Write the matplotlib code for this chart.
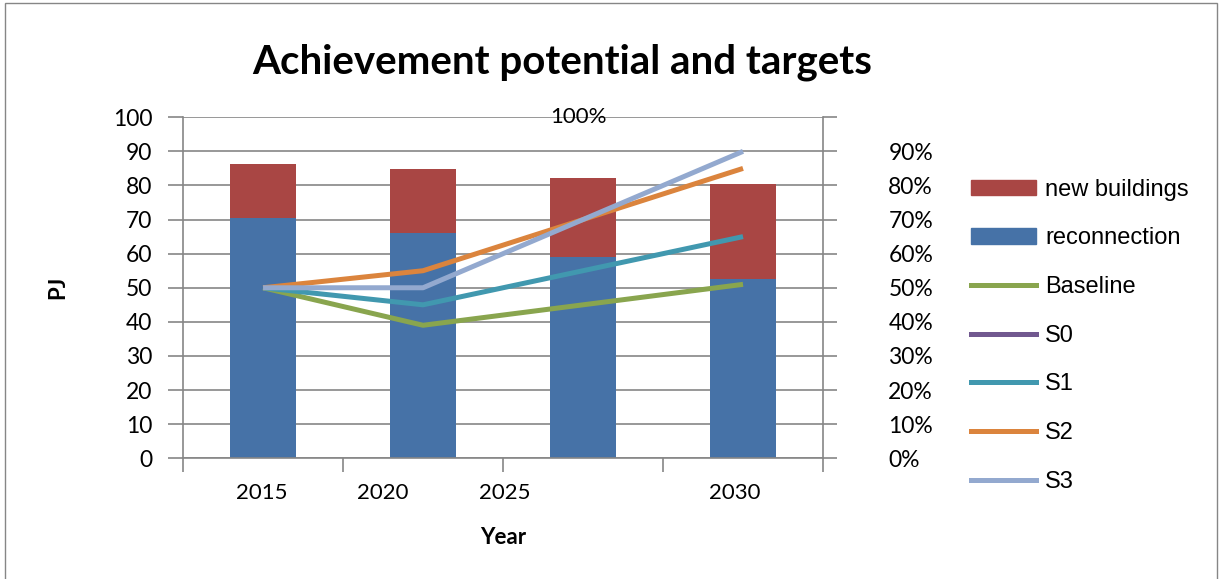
import numpy as np
import matplotlib
matplotlib.use("Agg")
import matplotlib.pyplot as plt
from matplotlib.patches import Patch, Rectangle
from matplotlib.lines import Line2D

# data
year_labels = ["2015", "2020", "2025", "2030"]
reconnection = [70.6, 66.0, 58.9, 52.5]
new_buildings = [15.7, 18.8, 23.2, 27.9]
baseline = [0.50, 0.39, 0.45, 0.51]
s0 = [np.nan, np.nan, np.nan, np.nan]
s1 = [0.50, 0.45, 0.55, 0.65]
s2 = [0.50, 0.55, 0.70, 0.85]
s3 = [0.50, 0.50, 0.70, 0.90]
left_ticks = [0, 10, 20, 30, 40, 50, 60, 70, 80, 90, 100]
right_ticks = [0, 0.1, 0.2, 0.3, 0.4, 0.5, 0.6, 0.7, 0.8, 0.9]

c_blue = "#4672A7"
c_red = "#A94644"
c_green = "#89A54E"
c_purple = "#71588F"
c_teal = "#4198AF"
c_orange = "#DB843D"
c_lblue = "#93A9CF"
gray = "#868686"

fig = plt.figure(figsize=(12.22, 5.79), dpi=100)
ax = fig.add_axes([0.1498, 0.2085, 0.5237, 0.589])

x = np.arange(len(year_labels)) + 0.5
w = 0.41
ax.bar(x, reconnection, w, color=c_blue, zorder=2)
ax.bar(x, new_buildings, w, bottom=reconnection, color=c_red, zorder=2)

ax.set_xlim(0, 4)
ax.set_ylim(0, 100)
ax.set_yticks(left_ticks)
ax.yaxis.grid(True, color=gray, linewidth=1.2, zorder=0)
ax.set_axisbelow(True)
for s in ["top", "right"]:
    ax.spines[s].set_visible(False)
for s in ["left", "bottom"]:
    ax.spines[s].set_color(gray)
    ax.spines[s].set_linewidth(1.2)
ax.tick_params(axis="y", direction="out", length=11, width=1.2, color=gray,
               labelsize=16.5, pad=11)
ax.set_xticks([0, 1, 2, 3, 4])
ax.set_xticklabels([])
ax.tick_params(axis="x", which="major", direction="out", length=10, width=1.2, color=gray)
# Excel put the category labels off-centre; reproduce that
ax.set_xticks([0.49, 1.25, 2.01, 3.45], minor=True)
ax.set_xticklabels(year_labels, minor=True)
ax.tick_params(axis="x", which="minor", length=0, labelsize=16, pad=18)
for lab in ax.get_yticklabels() + ax.get_xticklabels(minor=True):
    lab.set_fontfamily("Lato")

ax.set_xlabel("Year", fontsize=16, fontweight="bold", fontfamily="Lato", labelpad=17)
ax.set_ylabel("PJ", fontsize=16, fontweight="bold", fontfamily="Lato", labelpad=32)

ax2 = ax.twinx()
ax2.set_ylim(0, 1)
lw = 3.6
ax2.plot(x, baseline, color=c_green, lw=lw, solid_capstyle="butt")
ax2.plot(x, s0, color=c_purple, lw=lw, solid_capstyle="butt")
ax2.plot(x, s1, color=c_teal, lw=lw, solid_capstyle="butt")
ax2.plot(x, s2, color=c_orange, lw=lw, solid_capstyle="butt")
ax2.plot(x, s3, color=c_lblue, lw=lw, solid_capstyle="butt")
ax2.set_yticks(right_ticks + [1.0])
ax2.set_yticklabels([f"{int(round(t * 100))}%" for t in right_ticks] + [""])
ax2.tick_params(axis="y", direction="out", length=10, width=1.2, color=gray,
                labelsize=16.5, pad=37)
for lab in ax2.get_yticklabels():
    lab.set_fontfamily("Lato")
for s in ["top", "left", "bottom"]:
    ax2.spines[s].set_visible(False)
ax2.spines["right"].set_color(gray)
ax2.spines["right"].set_linewidth(1.2)
ax2.text(2.47, 1.0, "100%", ha="center", va="center", fontsize=16, fontfamily="Lato")

fig.text(0.46, 0.892, "Achievement potential and targets", ha="center", va="center",
         fontsize=29, fontweight="bold", fontfamily="Lato")

handles = [
    Patch(color=c_red),
    Patch(color=c_blue),
    Line2D([], [], color=c_green, lw=lw),
    Line2D([], [], color=c_purple, lw=lw),
    Line2D([], [], color=c_teal, lw=lw),
    Line2D([], [], color=c_orange, lw=lw),
    Line2D([], [], color=c_lblue, lw=lw),
]
labels = ["new buildings", "reconnection", "Baseline", "S0", "S1", "S2", "S3"]
fig.legend(handles, labels, loc="upper left", bbox_to_anchor=(0.777, 0.728),
           frameon=False, prop={"family": "Liberation Sans", "size": 17},
           handlelength=2.75, handleheight=0.65, labelspacing=1.13, handletextpad=0.4)

fig.patches.append(Rectangle((0.004, -0.01), 0.992, 1.005, transform=fig.transFigure,
                             fill=False, edgecolor=gray, linewidth=1.0))

fig.savefig("out.png", dpi=100)
